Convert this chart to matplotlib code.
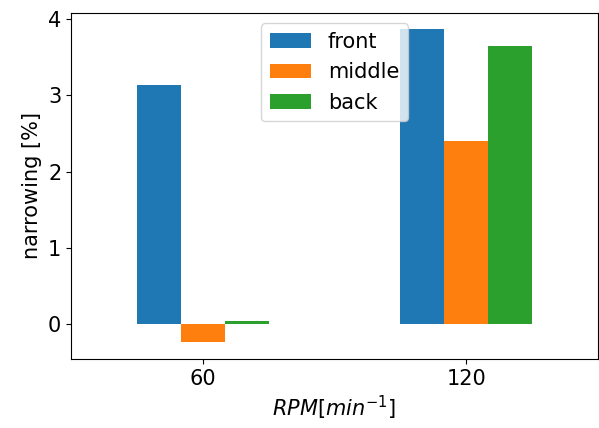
import numpy as np
import matplotlib
matplotlib.use('Agg')
import matplotlib.pyplot as plt

# data
rpm = [60, 120]
front = [3.14, 3.87]
middle = [-0.24, 2.40]
back = [0.04, 3.65]
series_names = ['front', 'middle', 'back']

plt.rcParams['font.size'] = 15

fig = plt.figure(figsize=(5.99, 4.28), dpi=100)
ax = fig.add_axes([71/599, 1 - 359/428, (598 - 71)/599, (359 - 13)/428])

x = np.array(rpm)
w = 10
ax.bar(x - w, front, w, label=series_names[0])
ax.bar(x, middle, w, label=series_names[1])
ax.bar(x + w, back, w, label=series_names[2])

ax.set_xticks(rpm)
ax.set_xlim(30, 150)
ax.set_ylim(-0.46, 4.08)
ax.set_yticks([0, 1, 2, 3, 4])
ax.set_xlabel('$RPM[min^{-1}]$')
ax.set_ylabel('narrowing [%]')
ax.legend(loc='upper center')

fig.savefig('out.png', dpi=100)
